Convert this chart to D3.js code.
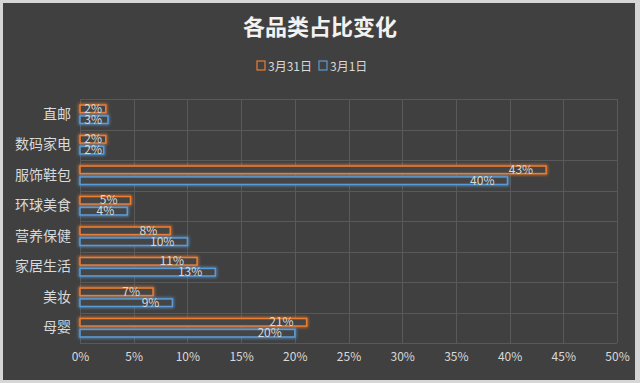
<!DOCTYPE html>
<html>
<head>
<meta charset="utf-8">
<script src="https://cdn.jsdelivr.net/npm/d3@7"></script>
<style>
  html, body { margin: 0; padding: 0; background: #d6d6d6; }
  svg { display: block; }
  text { font-family: "Noto Sans CJK SC", "Microsoft YaHei", sans-serif; }
</style>
</head>
<body>
<div id="chart"></div>
<script>
// categories top to bottom
const categories = ['直邮', '数码家电', '服饰鞋包', '环球美食', '营养保健', '家居生活', '美妆', '母婴'];
const seriesNames = ['3月31日', '3月1日'];
const mar31 = [0.024, 0.024, 0.434, 0.047, 0.084, 0.109, 0.068, 0.211];
const mar1 = [0.026, 0.022, 0.398, 0.044, 0.100, 0.126, 0.086, 0.200];
const xTicks = [0, 0.05, 0.1, 0.15, 0.2, 0.25, 0.3, 0.35, 0.4, 0.45, 0.5];

const colors = ['#ed7d31', '#5b9bd5'];
const W = 640, H = 383;
const margin = { top: 99, left: 80 };

const svg = d3.select('#chart').append('svg')
  .attr('width', W)
  .attr('height', H);

const defs = svg.append('defs');
colors.forEach((c, i) => {
  const f = defs.append('filter')
    .attr('id', `glow-${i}`)
    .attr('x', '-20%').attr('y', '-100%')
    .attr('width', '140%').attr('height', '300%');
  f.append('feGaussianBlur').attr('in', 'SourceGraphic').attr('stdDeviation', 1.8);
});

// dark panel
svg.append('rect')
  .attr('x', 3).attr('y', 3)
  .attr('width', 632).attr('height', 377)
  .attr('fill', '#404040');

// title
svg.append('text')
  .attr('x', 320).attr('y', 35)
  .attr('text-anchor', 'middle')
  .attr('fill', '#f2f2f2')
  .style('font-size', '22px')
  .style('font-weight', 'bold')
  .text('各品类占比变化');

// legend
const legend = svg.append('g').attr('transform', 'translate(256,67)');
let lx = 0;
seriesNames.forEach((name, i) => {
  legend.append('rect')
    .attr('x', lx + 1).attr('y', -6)
    .attr('width', 8).attr('height', 9)
    .attr('fill', 'none')
    .attr('stroke', colors[i])
    .attr('stroke-width', 1.2);
  const t = legend.append('text')
    .attr('x', lx + 12).attr('y', 4)
    .attr('fill', '#d9d9d9')
    .style('font-size', '12px')
    .text(name);
  lx += 12 + t.node().getComputedTextLength() + 6;
});

const g = svg.append('g')
  .attr('transform', `translate(${margin.left},${margin.top})`);

const x = d3.scaleLinear().domain([0, 0.5]).range([0, 537]);
const y = d3.scaleBand().domain(categories).range([0, 244]);

// vertical grid
g.append('g')
  .selectAll('line')
  .data(xTicks)
  .join('line')
  .attr('x1', d => Math.round(x(d)) + 0.5)
  .attr('x2', d => Math.round(x(d)) + 0.5)
  .attr('y1', 0)
  .attr('y2', y.range()[1])
  .attr('stroke', '#595959')
  .attr('stroke-width', 1);

// horizontal grid at band boundaries
const bounds = categories.map(c => y(c)).concat([y.range()[1]]);
g.append('g')
  .selectAll('line')
  .data(bounds)
  .join('line')
  .attr('x1', 0)
  .attr('x2', x(0.5))
  .attr('y1', d => Math.round(d) + 0.5)
  .attr('y2', d => Math.round(d) + 0.5)
  .attr('stroke', '#595959')
  .attr('stroke-width', 1);

// x axis labels
const xAxis = g.append('g')
  .attr('transform', `translate(0,${y.range()[1]})`)
  .call(d3.axisBottom(x).tickValues(xTicks).tickFormat(d3.format('.0%')).tickSize(0).tickPadding(9));
xAxis.select('.domain').remove();
xAxis.selectAll('text')
  .attr('fill', '#d9d9d9')
  .style('font-size', '12px')
  .style('font-family', '"Noto Sans CJK SC", sans-serif');

// y axis labels
const yAxis = g.append('g')
  .call(d3.axisLeft(y).tickSize(0).tickPadding(9));
yAxis.select('.domain').remove();
yAxis.selectAll('text')
  .attr('fill', '#d9d9d9')
  .style('font-size', '14px')
  .style('font-family', '"Noto Sans CJK SC", sans-serif');

// bars
const sub = d3.scaleBand().domain([0, 1]).range([0, y.bandwidth()]).paddingInner(0.3).paddingOuter(0.55);
const barH = 7.5;
const series = [mar31, mar1];
const fmt = d3.format('.0%');

series.forEach((vals, si) => {
  const rows = categories.map((c, i) => ({ cat: c, value: vals[i] }));
  const yy = d => y(d.cat) + sub(si) + (sub.bandwidth() - barH) / 2;

  // glow
  g.append('g')
    .attr('filter', `url(#glow-${si})`)
    .attr('opacity', 0.75)
    .selectAll('rect')
    .data(rows)
    .join('rect')
    .attr('x', 0)
    .attr('y', yy)
    .attr('width', d => x(d.value))
    .attr('height', barH)
    .attr('fill', 'none')
    .attr('stroke', colors[si])
    .attr('stroke-width', 3);

  g.append('g')
    .selectAll('rect')
    .data(rows)
    .join('rect')
    .attr('x', 0)
    .attr('y', yy)
    .attr('width', d => x(d.value))
    .attr('height', barH)
    .attr('fill', '#454545')
    .attr('stroke', colors[si])
    .attr('stroke-width', 1.5);

  g.append('g')
    .selectAll('text')
    .data(rows)
    .join('text')
    .attr('x', d => Math.max(x(d.value) - 13, 22))
    .attr('y', d => yy(d) + barH / 2 + 4)
    .attr('text-anchor', 'end')
    .attr('fill', '#d9d9d9')
    .style('font-size', '12px')
    .text(d => fmt(d.value));
});
</script>
</body>
</html>
